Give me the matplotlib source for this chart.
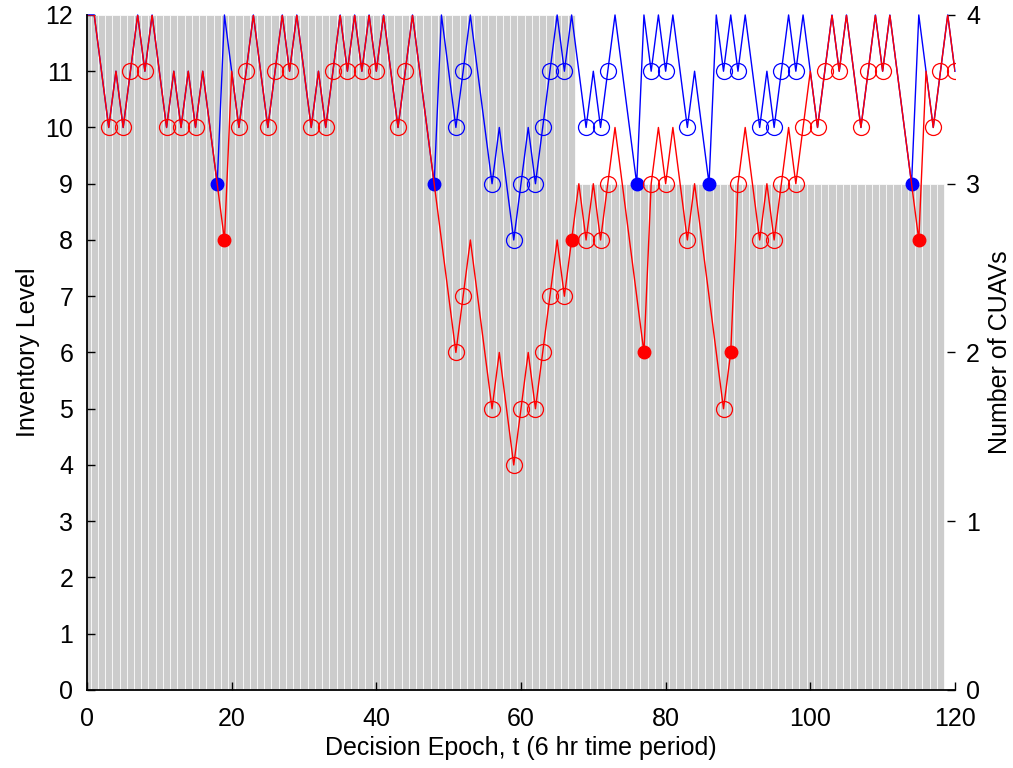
import numpy as np
import matplotlib
matplotlib.use("Agg")
import matplotlib.pyplot as plt

plt.rcParams['font.family'] = ['Liberation Sans', 'DejaVu Sans']
plt.rcParams['font.size'] = 18

# number of CUAVs available per decision epoch (gray bars, right axis)
cuav_epochs = np.arange(0, 119)
cuav_counts = [4] * 68 + [3] * 51

# inventory level per decision epoch, t = 0..120
epochs = np.arange(0, 121)
inv_red = [12, 12, 11, 10, 11, 10, 11, 12, 11, 12,
           11, 10, 11, 10, 11, 10, 11, 10, 9, 8,
           11, 10, 11, 12, 11, 10, 11, 12, 11, 12,
           11, 10, 11, 10, 11, 12, 11, 12, 11, 12,
           11, 12, 11, 10, 11, 12, 11, 10, 9, 8,
           7, 6, 7, 8, 7, 6, 5, 6, 5, 4,
           5, 6, 5, 6, 7, 8, 7, 8, 9, 8,
           9, 8, 9, 10, 9, 8, 7, 6, 9, 10,
           9, 10, 9, 8, 9, 8, 7, 6, 5, 6,
           9, 10, 9, 8, 9, 8, 9, 10, 9, 10,
           11, 10, 11, 12, 11, 12, 11, 10, 11, 12,
           11, 12, 11, 10, 9, 8, 11, 10, 11, 12,
           11]
inv_blue = [12, 12, 11, 10, 11, 10, 11, 12, 11, 12,
            11, 10, 11, 10, 11, 10, 11, 10, 9, 12,
            11, 10, 11, 12, 11, 10, 11, 12, 11, 12,
            11, 10, 11, 10, 11, 12, 11, 12, 11, 12,
            11, 12, 11, 10, 11, 12, 11, 10, 9, 12,
            11, 10, 11, 12, 11, 10, 9, 10, 9, 8,
            9, 10, 9, 10, 11, 12, 11, 12, 11, 10,
            11, 10, 11, 12, 11, 10, 9, 12, 11, 12,
            11, 12, 11, 10, 11, 10, 9, 12, 11, 12,
            11, 12, 11, 10, 11, 10, 11, 12, 11, 12,
            11, 10, 11, 12, 11, 12, 11, 10, 11, 12,
            11, 12, 11, 10, 9, 12, 11, 10, 11, 12,
            11]

# epochs marked with open circles / filled dots
circ_red = [3, 5, 6, 8, 11, 13, 15, 21, 22, 25, 26, 28, 31, 33, 34, 36, 38, 40,
            43, 44, 51, 52, 56, 59, 60, 62, 63, 64, 66, 69, 71, 72, 78, 80, 83,
            88, 90, 93, 95, 96, 98, 99, 101, 102, 104, 107, 108, 110, 117, 118, 120]
circ_blue = [51, 52, 56, 59, 60, 62, 63, 64, 66, 69, 71, 72, 78, 80, 83, 88, 90,
             93, 95, 96, 98]
fill_red = [19, 67, 77, 89, 115]
fill_blue = [18, 48, 76, 86, 114]

inv_red = np.array(inv_red)
inv_blue = np.array(inv_blue)

fig = plt.figure(figsize=(10.13, 7.68), dpi=100)
ax = fig.add_axes([0.0859, 0.1016, 0.8568, 0.8789])
ax2 = ax.twinx()

# bars behind the inventory lines
ax2.bar(cuav_epochs, cuav_counts, width=1.0, color='#cccccc',
        edgecolor='white', linewidth=0.5)
ax2.set_ylim(0, 4)
ax2.set_yticks(range(0, 5))
ax2.set_ylabel("Number of CUAVs", labelpad=6)
ax.set_zorder(ax2.get_zorder() + 1)
ax.patch.set_visible(False)

# Blue series
ax.plot(epochs, inv_blue, color='blue', lw=1.0, clip_on=False)
ax.plot(circ_blue, inv_blue[circ_blue], 'o', mfc='none', mec='blue', ms=11.5, mew=0.9)
ax.plot(fill_blue, inv_blue[fill_blue], 'o', color='blue', ms=9)

# Red series
ax.plot(epochs, inv_red, color='red', lw=1.0)
ax.plot(circ_red, inv_red[circ_red], 'o', mfc='none', mec='red', ms=11.5, mew=0.9)
ax.plot(fill_red, inv_red[fill_red], 'o', color='red', ms=9)

ax.set_xlim(0, 120)
ax.set_ylim(0, 12)
ax.set_xticks(range(0, 121, 20))
ax.set_yticks(range(0, 13))
ax.set_xlabel("Decision Epoch, t (6 hr time period)", labelpad=4)
ax.set_ylabel("Inventory Level", labelpad=4)

for a in (ax, ax2):
    a.spines['top'].set_visible(False)
    a.spines['right'].set_visible(False)
    a.tick_params(direction='in', length=6, width=1)
ax.tick_params(axis='x', pad=12)
ax.tick_params(axis='y', pad=10)
ax2.tick_params(axis='y', pad=8)
ax2.spines['left'].set_visible(False)
ax2.spines['bottom'].set_visible(False)
ax.spines['left'].set_linewidth(1.3)
ax.spines['bottom'].set_linewidth(1.3)

fig.savefig("out.png", dpi=100)
